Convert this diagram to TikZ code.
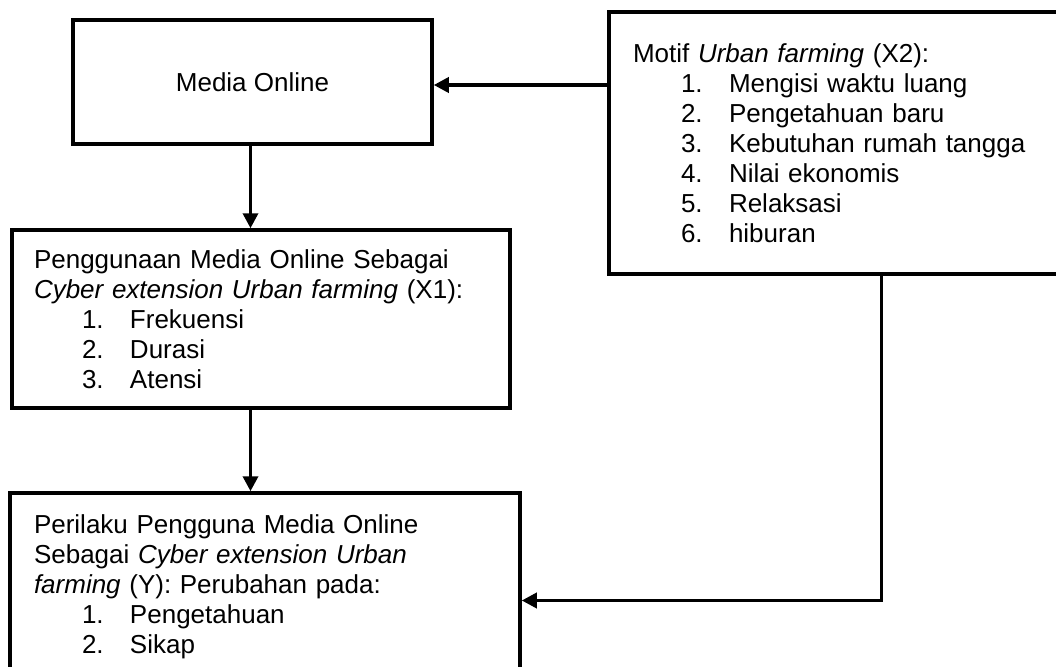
\documentclass[tikz,border=0pt]{standalone}
\usepackage{fontspec}
\setmainfont{Liberation Sans}
\usetikzlibrary{arrows.meta}
\newcommand{\litem}[2]{\hspace*{48pt}\makebox[48pt][l]{#1}#2}
\begin{document}
\begin{tikzpicture}[x=1pt,y=-1pt,
  box/.style={draw,line width=3.5pt,rectangle,inner sep=0pt,align=left,
    font=\fontsize{26}{30}\selectfont},
  arr/.style={line width=3.5pt,-{Triangle[length=15pt,width=15pt]}}]
\clip (0,0) rectangle (1056,666);
\fill[white] (0,0) rectangle (1056,666);
\node[box,align=center,minimum width=359pt,minimum height=124pt] (A) at (252.5,82) {Media Online};
\node[box,minimum width=461pt,minimum height=262pt,text width=413pt] (B) at (839.5,143) {%
Motif \textit{Urban farming} (X2):\\
\litem{1.}{Mengisi waktu luang}\\
\litem{2.}{Pengetahuan baru}\\
\litem{3.}{Kebutuhan rumah tangga}\\
\litem{4.}{Nilai ekonomis}\\
\litem{5.}{Relaksasi}\\
\litem{6.}{hiburan}};
\node[box,minimum width=498pt,minimum height=178pt,text width=454pt] (C) at (261,319) {%
Penggunaan Media Online Sebagai\\
\textit{Cyber extension Urban farming} (X1):\\
\litem{1.}{Frekuensi}\\
\litem{2.}{Durasi}\\
\litem{3.}{Atensi}};
\node[box,minimum width=510pt,minimum height=187pt,text width=462pt] (D) at (265,586.5) {%
Perilaku Pengguna Media Online\\
Sebagai \textit{Cyber extension Urban}\\
\textit{farming} (Y): Perubahan pada:\\
\litem{1.}{Pengetahuan}\\
\litem{2.}{Sikap}};
\draw[arr] ([yshift=-3pt]B.west |- A.east) -- ([yshift=-3pt]A.east);
\draw[arr] ([xshift=-2pt]A.south) -- ([xshift=-2pt]A.south |- C.north);
\draw[arr] ([xshift=-2pt]A.south |- C.south) -- ([xshift=-2pt]A.south |- D.north);
\draw[arr] ([xshift=42pt]B.south) |- ([yshift=-14pt]D.east);
\end{tikzpicture}
\end{document}
